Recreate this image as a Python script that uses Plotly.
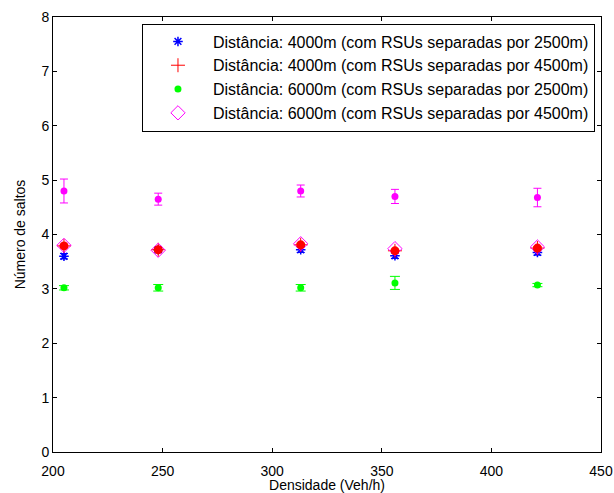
import plotly.graph_objects as go

densidade = [205, 248, 313, 356, 421]

# Distância 4000m, RSUs 2500m (blue asterisk)
d4000_2500 = [3.60, 3.72, 3.72, 3.61, 3.67]
d4000_2500_err = [0.05, 0.04, 0.05, 0.05, 0.05]

# Distância 4000m, RSUs 4500m (red)
d4000_4500 = [3.79, 3.72, 3.81, 3.70, 3.75]
d4000_4500_err = [0.03, 0.03, 0.03, 0.03, 0.03]

# Distância 6000m, RSUs 2500m (green)
d6000_2500 = [3.02, 3.02, 3.02, 3.11, 3.07]
d6000_2500_err = [0.04, 0.06, 0.06, 0.12, 0.03]

# Distância 6000m, RSUs 4500m (magenta diamond)
d6000_4500 = [3.80, 3.71, 3.83, 3.74, 3.77]

# magenta dots with error bars (upper)
mag_upper = [4.80, 4.65, 4.80, 4.70, 4.68]
mag_upper_err = [0.22, 0.11, 0.11, 0.13, 0.17]

legend_labels = [
    "Distância: 4000m (com RSUs separadas por 2500m)",
    "Distância: 4000m (com RSUs separadas por 4500m)",
    "Distância: 6000m (com RSUs separadas por 2500m)",
    "Distância: 6000m (com RSUs separadas por 4500m)",
]

BLUE = "rgb(0,0,255)"
RED = "rgb(255,0,0)"
GREEN = "rgb(0,255,0)"
MAG = "rgb(255,0,255)"
FONT = "Liberation Sans, Arial"

fig = go.Figure()

fig.add_trace(go.Scatter(
    x=densidade, y=d4000_2500, mode="markers", name=legend_labels[0],
    marker=dict(symbol="asterisk-open", size=8, color=BLUE, line=dict(color=BLUE, width=1.5)),
    error_y=dict(type="data", array=d4000_2500_err, color=BLUE, width=4, thickness=1),
))
fig.add_trace(go.Scatter(
    x=densidade, y=d4000_4500, mode="markers", name=legend_labels[1],
    marker=dict(symbol="cross-thin-open", size=10, color=RED, line=dict(color=RED, width=1)),
))
fig.add_trace(go.Scatter(
    x=densidade, y=d6000_2500, mode="markers", name=legend_labels[2],
    marker=dict(symbol="circle", size=7, color=GREEN),
    error_y=dict(type="data", array=d6000_2500_err, color=GREEN, width=5, thickness=1),
))
fig.add_trace(go.Scatter(
    x=densidade, y=d6000_4500, mode="markers", name=legend_labels[3],
    marker=dict(symbol="diamond-open", size=11, color=MAG, line=dict(color=MAG, width=1)),
))
fig.add_trace(go.Scatter(
    x=densidade, y=d4000_4500, mode="markers", showlegend=False,
    marker=dict(symbol="circle", size=9, color=RED),
    error_y=dict(type="data", array=d4000_4500_err, color=RED, width=4, thickness=1),
))
fig.add_trace(go.Scatter(
    x=densidade, y=mag_upper, mode="markers", showlegend=False,
    marker=dict(symbol="circle", size=7, color=MAG),
    error_y=dict(type="data", array=mag_upper_err, color=MAG, width=4, thickness=1),
))

axis_common = dict(
    showgrid=False, zeroline=False, showline=True, linecolor="black", linewidth=1,
    mirror="ticks", ticks="inside", ticklen=4, tickcolor="black",
    tickfont=dict(family=FONT, size=14, color="black"),
    automargin=False,
)

fig.update_layout(
    width=614, height=493,
    margin=dict(l=53, r=13, t=17, b=41),
    paper_bgcolor="white", plot_bgcolor="white",
    font=dict(family=FONT, size=14, color="black"),
    xaxis=dict(range=[200, 450], tickvals=[200, 250, 300, 350, 400, 450],
               ticklabelstandoff=6,
               title=dict(text="Densidade (Veh/h)", standoff=2,
                          font=dict(size=14)), **axis_common),
    yaxis=dict(range=[0, 8], tickvals=list(range(0, 9)),
               title=dict(text="Número de saltos", standoff=12,
                          font=dict(size=14)), **axis_common),
    legend=dict(
        x=0.989, y=0.985, xanchor="right", yanchor="top",
        bgcolor="white", bordercolor="black", borderwidth=1,
        font=dict(family=FONT, size=16, color="black"),
        itemwidth=60, traceorder="normal",
    ),
    showlegend=True,
)

fig.write_html("out.html")
